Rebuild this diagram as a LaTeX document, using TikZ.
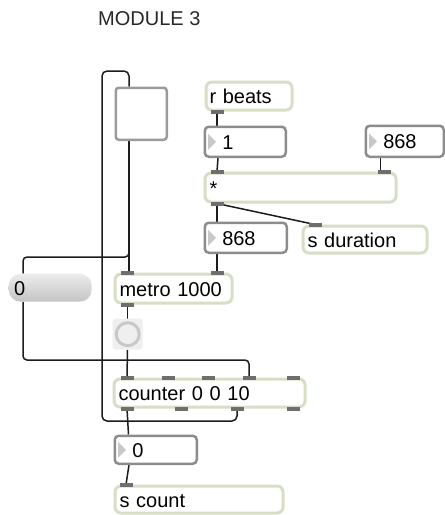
\documentclass[tikz,border=0pt]{standalone}
\usepackage{fontspec}
\setmainfont{Liberation Sans}
\usetikzlibrary{backgrounds}
\definecolor{objc}{RGB}{214,222,198}
\definecolor{tabc}{RGB}{110,110,110}
\definecolor{numc}{RGB}{140,140,140}
\definecolor{togc}{RGB}{155,155,155}
\definecolor{wirec}{RGB}{28,28,28}
\definecolor{tric}{RGB}{200,200,200}
\definecolor{bangbg}{RGB}{239,239,239}
\definecolor{bangc}{RGB}{200,200,200}
\definecolor{msgtop}{RGB}{236,236,236}
\definecolor{msgbot}{RGB}{196,196,196}
\definecolor{titlec}{RGB}{40,40,40}
\newcommand{\mkbox}[8]{%
  \pgfmathsetmacro\mktw{#5-3-2*#7}%
  \pgfmathsetmacro\mkmw{#5-3}%
  \pgfmathsetmacro\mkmh{#6-3}%
  \node[#1, anchor=north west, inner xsep=#7pt, inner ysep=0pt,
        text width=\mktw pt, minimum width=\mkmw pt, minimum height=\mkmh pt,
        text height=15pt, text depth=0pt, align=left] (#2) at (#3+1.5,#4+1.5) {#8};}
\newcommand{\tabat}[1]{\fill[tabc, shift={(#1)}] (-6.5,-2) rectangle (6.5,2);}
\newcommand{\numtri}[1]{\fill[tric, shift={(#1.west)}] (4.5,-8) -- (4.5,8) -- (12.5,0) -- cycle;}
\begin{document}
\begin{tikzpicture}[x=1pt,y=-1pt,
  every node/.style={font=\fontsize{20}{24}\selectfont, text=black},
  objbox/.style={draw=objc, line width=3pt, rounded corners=6pt, fill=white},
  numbox/.style={draw=numc, line width=2.5pt, rounded corners=4pt, fill=white},
  togbox/.style={draw=togc, line width=2.5pt, rounded corners=3pt, fill=white},
  bangbox/.style={fill=bangbg, rounded corners=3pt},
  msgbox/.style={top color=msgtop, bottom color=msgbot, rounded corners=12pt},
  wire/.style={draw=wirec, line width=1.5pt, rounded corners=4pt}]
\useasboundingbox (0,0) rectangle (445,515);

% title
\node[anchor=base west, inner sep=0pt, text=titlec] (title) at (98,25) {MODULE 3};

% boxes
\mkbox{togbox}{tog}{113}{85}{54}{55}{0}{}
\mkbox{objbox}{rbeats}{203}{79}{89}{31}{3.5}{r beats}
\mkbox{numbox}{num1}{202}{124}{84}{33}{17.5}{1}
\mkbox{numbox}{numr}{363}{123}{81}{34}{17.5}{868}
\mkbox{objbox}{mult}{202}{170}{194}{32}{4.5}{*}
\mkbox{numbox}{numm}{202}{220}{85}{33}{17.5}{868}
\mkbox{objbox}{sdur}{300}{223}{127}{30}{4.5}{s duration}
\mkbox{msgbox}{msg}{7}{272}{86}{31}{5.5}{0}
\mkbox{objbox}{metro}{112}{271}{120}{32}{4.5}{metro 1000}
\mkbox{bangbox}{bang}{111}{317}{33}{34}{0}{}
\mkbox{objbox}{counter}{111}{376}{194}{31}{4.5}{counter 0 0 10}
\mkbox{numbox}{num0}{112}{433}{85}{31}{17.5}{0}
\mkbox{objbox}{scount}{112}{483}{171}{30}{4.5}{s count}

\draw[bangc, line width=3pt] (bang.center) circle (11.5pt);
\numtri{num1}
\numtri{numr}
\numtri{numm}
\numtri{num0}

% ports
\coordinate (rbout) at ([xshift=12.5pt]rbeats.south west);
\coordinate (multin1) at ([xshift=13.5pt]mult.north west);
\coordinate (multin2) at ([xshift=-13pt]mult.north east);
\coordinate (multout) at ([xshift=13.5pt]mult.south west);
\coordinate (sdurin) at ([xshift=13.5pt]sdur.north west);
\coordinate (metroin1) at ([xshift=14pt]metro.north west);
\coordinate (metroin2) at ([xshift=103.5pt]metro.north west);
\coordinate (metroout) at ([xshift=14pt]metro.south west);
\coordinate (cin1) at ([xshift=14.5pt]counter.north west);
\coordinate (cin2) at ([xshift=55.5pt]counter.north west);
\coordinate (cin3) at ([xshift=96pt]counter.north west);
\coordinate (cin4) at ([xshift=136.5pt]counter.north west);
\coordinate (cin5) at ([xshift=-13pt]counter.north east);
\coordinate (cout1) at ([xshift=14.5pt]counter.south west);
\coordinate (cout2) at ([xshift=69pt]counter.south west);
\coordinate (cout3) at ([xshift=124.5pt]counter.south west);
\coordinate (cout4) at ([xshift=-13pt]counter.south east);
\coordinate (scin) at ([xshift=12.5pt]scount.north west);
\coordinate (togin) at ([xshift=14.5pt]tog.north west);
\coordinate (togout) at ([xshift=14.5pt]tog.south west);
\coordinate (msgin) at ([xshift=14.5pt]msg.north west);
\coordinate (msgout) at ([xshift=14.5pt]msg.south west);
\coordinate (numrout) at ([xshift=16pt]numr.south west);
\coordinate (hy) at (0,257);
\coordinate (iy) at (0,360);
\coordinate (loopA) at (102,421);
\coordinate (loopB) at (102,71);

\foreach \p in {rbout,multin1,multin2,multout,sdurin,metroin1,metroin2,metroout,
  cin1,cin2,cin3,cin4,cin5,cout1,cout2,cout3,cout4,scin} {\tabat{\p}}

\begin{pgfonlayer}{background}
\fill[white] (0,0) rectangle (445,515);
\draw[wire] (rbout) -- (rbout |- num1.north);
\draw[wire] ([xshift=14.5pt]num1.south west) -- (multin1);
\draw[wire] (numrout) -- (numrout |- mult.north);
\draw[wire] (multout) -- (multout |- numm.north);
\draw[wire] (multout) -- (sdurin);
\draw[wire] ([xshift=13.5pt]numm.south west) -- (metroin2);
\draw[wire] (togout) -- (togout |- metro.north);
\draw[wire] (togout) -- (togout |- hy) -| (msgin);
\draw[wire] (msgout) -- (msgout |- iy) -| (cin4);
\draw[wire] (metroout) -- (metroout |- bang.north);
\draw[wire] (metroout |- bang.south) -- (cin1);
\draw[wire, rounded corners=5pt] (cout3) |- (loopA) -- (loopB) -| (togin);
\draw[wire] (cout1) -- ([xshift=15pt]num0.north west);
\draw[wire] ([xshift=15.5pt]num0.south west) -- (scin);
\end{pgfonlayer}
\end{tikzpicture}
\end{document}
